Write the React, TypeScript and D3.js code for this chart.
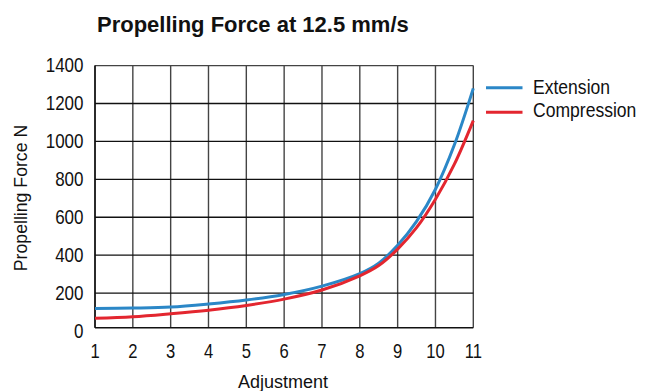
import React from "react";
import * as d3 from "d3";

const title = "Propelling Force at 12.5 mm/s";
const xLabel = "Adjustment";
const yLabel = "Propelling Force N";
const xTicks = [1, 2, 3, 4, 5, 6, 7, 8, 9, 10, 11];
const yTicks = [0, 200, 400, 600, 800, 1000, 1200, 1400];
const adjustment = [1, 2, 3, 4, 5, 6, 7, 8, 8.5, 9, 9.5, 10, 10.5, 11];
const extension = [119, 121, 126, 142, 163, 193, 237, 303, 358, 452, 578, 748, 982, 1280];
const compression = [67, 75, 91, 110, 135, 168, 216, 291, 345, 432, 545, 695, 880, 1110];
const seriesNames = ["Extension", "Compression"];
const seriesColors = ["#2b87c7", "#e3262f"];

const W = 653;
const H = 391;
const FONT = "'Liberation Sans', Arial, sans-serif";

export default function App() {
  const x = d3.scaleLinear().domain([1, 11]).range([95, 473.3]);
  const y = d3.scaleLinear().domain([0, 1400]).range([331, 65.6]);
  const frameBottom = y(0) - 3.3;
  const line = d3
    .line<number>()
    .x((_, i) => x(adjustment[i]))
    .y((d) => y(d))
    .curve(d3.curveCatmullRom.alpha(0.5));
  const series = [extension, compression];

  return (
    <svg
      width={W}
      height={H}
      style={{ position: "absolute", left: 0, top: 0, background: "#fff" }}
      fontFamily={FONT}
    >
      <rect x={0} y={0} width={W} height={H} fill="#fff" />
      <text x={97} y={31.7} fontSize={22} fontWeight="bold" fill="#111">
        {title}
      </text>

      {xTicks.map((t) => (
        <line
          key={"vx" + t}
          x1={x(t)}
          x2={x(t)}
          y1={y(1400)}
          y2={frameBottom}
          stroke="#444"
          strokeWidth={1.4}
        />
      ))}
      {yTicks.filter((t) => t > 0).map((t) => (
        <line
          key={"hy" + t}
          x1={x(1)}
          x2={x(11)}
          y1={y(t)}
          y2={y(t)}
          stroke={t === 1400 ? "#444" : "#111"}
          strokeWidth={1.3}
        />
      ))}
      <line x1={x(1)} x2={x(11)} y1={frameBottom} y2={frameBottom} stroke="#111" strokeWidth={1.5} />
      <line x1={x(1)} x2={x(1)} y1={y(1400)} y2={frameBottom} stroke="#111" strokeWidth={1.5} />

      {series.map((s, i) => (
        <path
          key={"s" + i}
          d={line(s) || ""}
          fill="none"
          stroke={seriesColors[i]}
          strokeWidth={3}
          strokeLinejoin="round"
        />
      ))}

      {yTicks.map((t) => (
        <text
          key={"yt" + t}
          transform={`translate(83.5,${y(t) + 6.5}) scale(0.85,1)`}
          textAnchor="end"
          fontSize={20}
          fill="#111"
        >
          {t}
        </text>
      ))}
      {xTicks.map((t) => (
        <text
          key={"xt" + t}
          transform={`translate(${x(t)},358.3) scale(0.83,1)`}
          textAnchor="middle"
          fontSize={20}
          fill="#111"
        >
          {t}
        </text>
      ))}

      <text x={283} y={388.3} textAnchor="middle" fontSize={18} fill="#111">
        {xLabel}
      </text>
      <text
        transform={`translate(27,198) rotate(-90)`}
        textAnchor="middle"
        fontSize={17.7}
        fill="#111"
      >
        {yLabel}
      </text>

      {seriesNames.map((n, i) => (
        <g key={"lg" + i}>
          <line
            x1={486}
            x2={522.5}
            y1={87.8 + i * 24.5}
            y2={87.8 + i * 24.5}
            stroke={seriesColors[i]}
            strokeWidth={3}
          />
          <text
            transform={`translate(533,${94 + i * 23.2}) scale(0.9,1)`}
            fontSize={19.5}
            fill="#111"
          >
            {n}
          </text>
        </g>
      ))}
    </svg>
  );
}
